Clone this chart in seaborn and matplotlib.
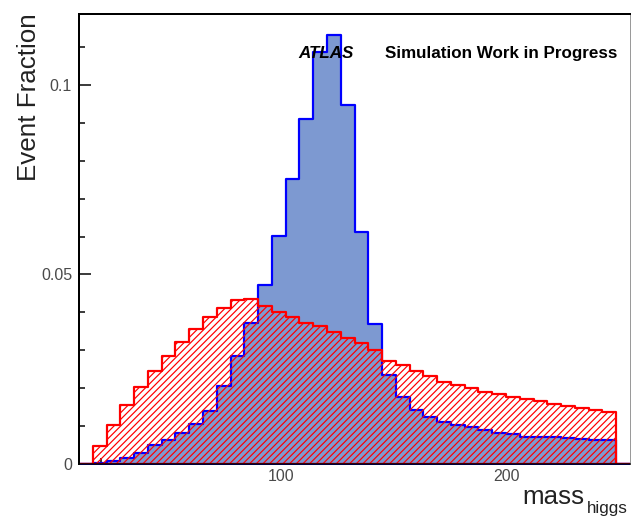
import numpy as np
import pandas as pd
import matplotlib
matplotlib.use("Agg")
import matplotlib.pyplot as plt
import seaborn as sns
from matplotlib.ticker import FixedLocator

# ---------------- data ----------------
bin_edges = [10 + 6.125 * k for k in range(41)]          # 40 bins, 10 .. 255
signal = [0.0, 0.0002, 0.0007, 0.0016, 0.0028, 0.0050, 0.0063, 0.0082, 0.0105, 0.0140,
          0.0205, 0.0286, 0.0372, 0.0473, 0.0602, 0.0752, 0.0911, 0.1088, 0.1132, 0.0948,
          0.0611, 0.0370, 0.0235, 0.0178, 0.0143, 0.0123, 0.0112, 0.0103, 0.0097, 0.0090,
          0.0083, 0.0078, 0.0072, 0.0070, 0.0070, 0.0068, 0.0065, 0.0063, 0.0063, 0.0]
background = [0.0, 0.0048, 0.0102, 0.0155, 0.0202, 0.0246, 0.0285, 0.0323, 0.0356, 0.0389,
              0.0411, 0.0433, 0.0434, 0.0418, 0.0402, 0.0389, 0.0373, 0.0363, 0.0348, 0.0333,
              0.0320, 0.0300, 0.0272, 0.0260, 0.0244, 0.0232, 0.0217, 0.0209, 0.0200, 0.0191,
              0.0184, 0.0178, 0.0171, 0.0165, 0.0159, 0.0152, 0.0147, 0.0143, 0.0136, 0.0]
x_major_ticks = [100, 200]
x_tick_labels = ["100", "200"]
x_minor_ticks = list(range(20, 260, 20))
y_major_ticks = [0, 0.05, 0.1]
y_tick_labels = ["0", "0.05", "0.1"]
y_minor_ticks = [i / 100 for i in range(0, 12)]

# ---------------- style ----------------
DPI = 100
PX = 72 / DPI
sns.set_style("white")
plt.rcParams["font.family"] = ["Liberation Sans", "DejaVu Sans"]
plt.rcParams["hatch.linewidth"] = 1.2 * PX

fig = plt.figure(figsize=(6.31, 5.17), dpi=DPI)
ax = fig.add_axes([79 / 631, 1 - 464 / 517, 551 / 631, 450 / 517])

edges = np.array(bin_edges)
centers = (edges[:-1] + edges[1:]) / 2
sig_df = pd.DataFrame({"mass": centers, "frac": signal})
bkg_df = pd.DataFrame({"mass": centers, "frac": background})

sns.histplot(data=sig_df, x="mass", weights="frac", bins=bin_edges, element="step",
             fill=True, alpha=1, color="#7D99D1", facecolor="#7D99D1",
             edgecolor="#0000FF", linewidth=2.2 * PX, ax=ax)
sns.histplot(data=bkg_df, x="mass", weights="frac", bins=bin_edges, element="step",
             fill=True, alpha=1, color="#FF0000", facecolor=(1, 1, 1, 0),
             edgecolor="#FF0000", hatch="/////", linewidth=2.2 * PX, ax=ax)

ax.set_xlim(10, 255)
ax.set_ylim(0, 0.1187)
ax.set_xlabel("")
ax.set_ylabel("")

ax.xaxis.set_major_locator(FixedLocator(x_major_ticks))
ax.set_xticklabels(x_tick_labels)
ax.xaxis.set_minor_locator(FixedLocator(x_minor_ticks))
ax.yaxis.set_major_locator(FixedLocator(y_major_ticks))
ax.set_yticklabels(y_tick_labels)
ax.yaxis.set_minor_locator(FixedLocator(y_minor_ticks))

ax.tick_params(axis="both", which="both", direction="in", color="black",
               width=1.5 * PX, top=False, right=False, bottom=True, left=True)
ax.tick_params(axis="both", which="major", length=12 * PX, labelsize=16 * PX,
               labelcolor="#4a4a4a")
ax.tick_params(axis="both", which="minor", length=6 * PX)
ax.tick_params(axis="y", which="major", pad=7 * PX)
ax.tick_params(axis="x", which="major", pad=5 * PX)

for side in ["left", "top"]:
    ax.spines[side].set_color("black")
    ax.spines[side].set_linewidth(2 * PX)
ax.spines["bottom"].set_color("black")
ax.spines["bottom"].set_linewidth(1.5 * PX)
ax.spines["right"].set_color("#9a9a9a")
ax.spines["right"].set_linewidth(1 * PX)

ax.text(0.3975, 0.902, "ATLAS", transform=ax.transAxes, fontsize=17 * PX,
        fontweight="bold", fontstyle="italic", color="black", ha="left", va="baseline",
        zorder=5)
ax.text(0.5554, 0.902, "Simulation Work in Progress", transform=ax.transAxes,
        fontsize=17 * PX, fontweight="bold", color="black", ha="left", va="baseline",
        zorder=5)

fig.text(29 / 631, 1 - 13 / 517, "Event Fraction", rotation=90, ha="center", va="top",
         fontsize=26 * PX, color="#222222")
fig.text(584 / 631, 1 - 504 / 517, "mass", ha="right", va="baseline",
         fontsize=26 * PX, color="#222222")
fig.text(587 / 631, 1 - 513 / 517, "higgs", ha="left", va="baseline",
         fontsize=17 * PX, color="#222222")

fig.savefig("out.png", dpi=DPI)
